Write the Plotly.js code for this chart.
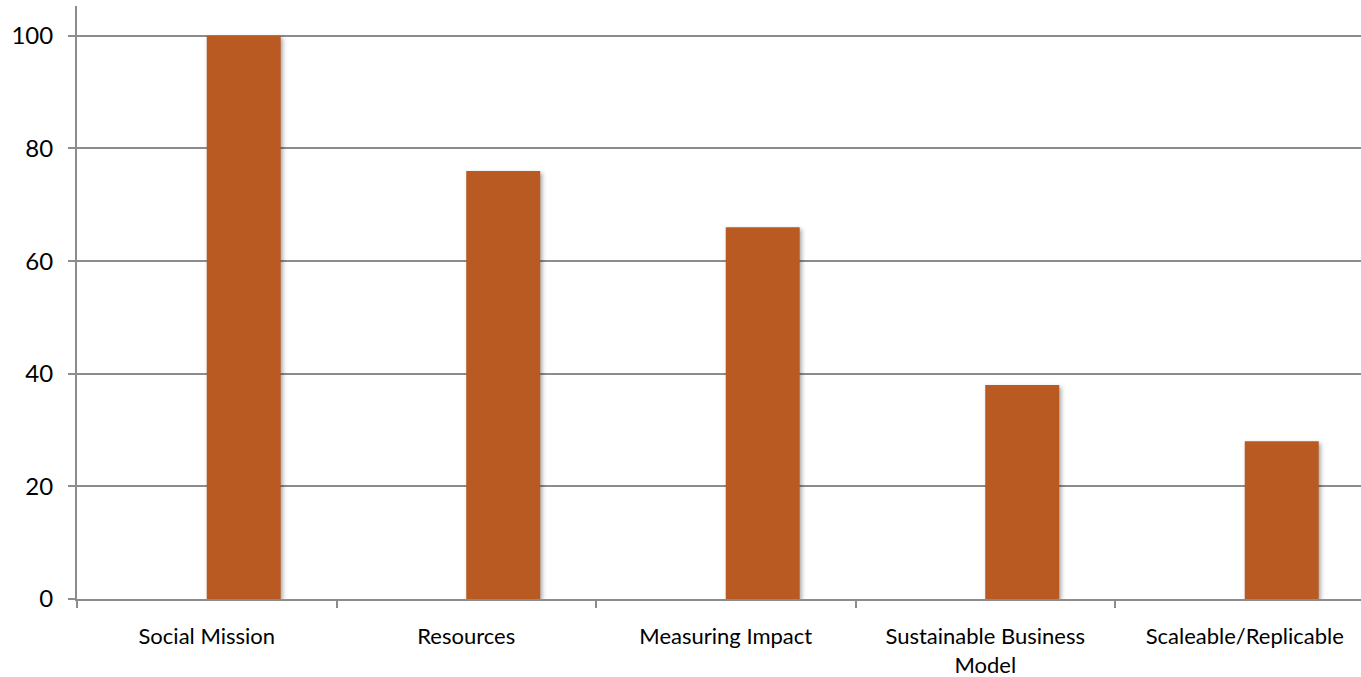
<!DOCTYPE html>
<html>
<head>
<meta charset="utf-8">
<script src="https://cdn.plot.ly/plotly-3.0.1.min.js"></script>
<style>
html,body{margin:0;padding:0;background:#fff;}
#chart{width:1361px;height:677px;}
.bars path{filter: drop-shadow(2px 2px 2px rgba(0,0,0,0.35));}
</style>
</head>
<body>
<div id="chart"></div>
<script>
const categories = ["Social Mission", "Resources", "Measuring Impact", "Sustainable Business<br>Model", "Scaleable/Replicable"];
const values = [100, 76, 66, 38, 28];
const yTicks = [0, 20, 40, 60, 80, 100];

const barColor = "#B95A22";
const gridColor = "#8C8C8C";
const fontFamily = "Lato, 'Open Sans', sans-serif";

const trace = {
  type: "bar",
  x: categories,
  y: values,
  width: 0.285,
  offset: 0,
  marker: {color: barColor, line: {width: 0}},
  hoverinfo: "x+y"
};

const layout = {
  width: 1361,
  height: 677,
  margin: {l: 77, r: 0, t: 6, b: 78},
  paper_bgcolor: "#fff",
  plot_bgcolor: "#fff",
  showlegend: false,
  font: {family: fontFamily, size: 22, color: "#000"},
  xaxis: {
    type: "category",
    range: [-0.5, 4.448],
    tickson: "boundaries",
    ticks: "outside",
    ticklen: 7,
    tickwidth: 2,
    tickcolor: gridColor,
    showline: true,
    linecolor: gridColor,
    linewidth: 2,
    showgrid: false,
    zeroline: false,
    ticklabelstandoff: 17,
    tickfont: {family: fontFamily, size: 22, color: "#000"}
  },
  yaxis: {
    range: [0, 105.3],
    tickvals: yTicks,
    ticktext: yTicks.map(String),
    ticks: "outside",
    ticklen: 7,
    tickwidth: 2,
    tickcolor: gridColor,
    showline: true,
    linecolor: gridColor,
    linewidth: 2,
    showgrid: true,
    gridcolor: gridColor,
    gridwidth: 2,
    zeroline: false,
    ticklabelstandoff: 10,
    tickfont: {family: fontFamily, size: 24, color: "#000"}
  }
};

Plotly.newPlot("chart", [trace], layout, {displayModeBar: false, staticPlot: true});
</script>
</body>
</html>
